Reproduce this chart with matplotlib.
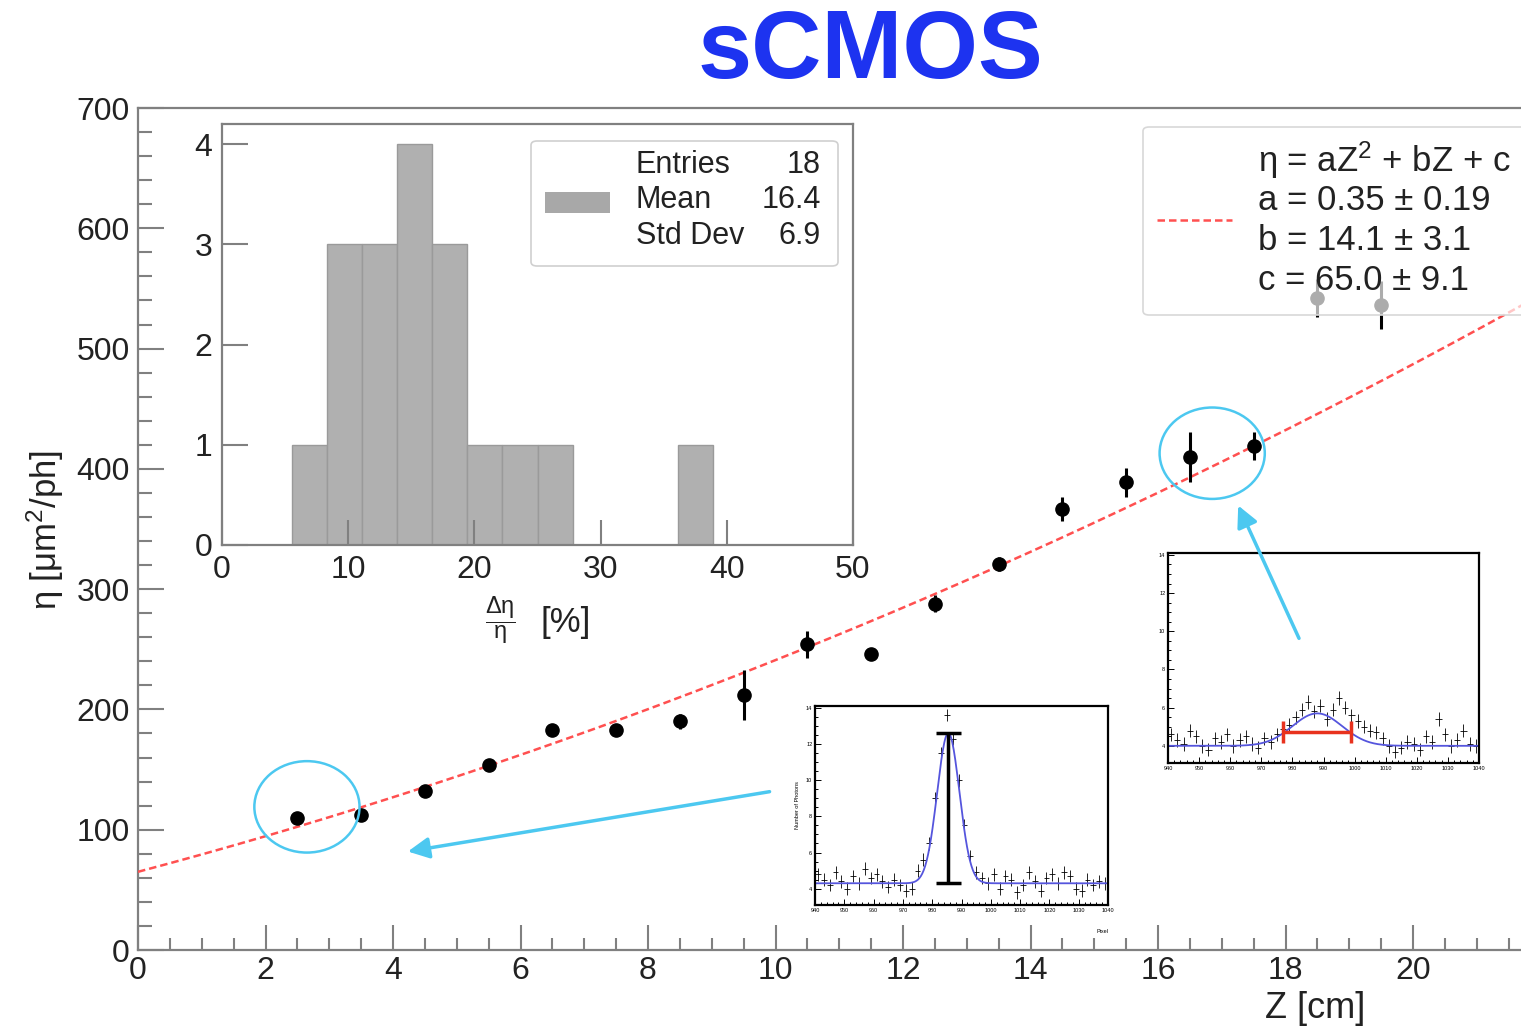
import numpy as np
import matplotlib
matplotlib.use('Agg')
from matplotlib import pyplot as plt
from matplotlib.patches import Ellipse, FancyBboxPatch, FancyArrowPatch, Rectangle
from matplotlib.lines import Line2D

plt.rcParams['font.family'] = ['Liberation Sans', 'DejaVu Sans']
plt.rcParams['mathtext.fontset'] = 'custom'
plt.rcParams['mathtext.rm'] = 'Liberation Sans'
plt.rcParams['mathtext.it'] = 'Liberation Sans'

# ---- main graph: eta vs drift distance Z ----
z_pos = [2.5, 3.5, 4.5, 5.5, 6.5, 7.5, 8.5, 9.5, 10.5, 11.5, 12.5, 13.5, 14.5, 15.5, 16.5, 17.5]
eta = [110, 112, 132, 154, 183, 183, 190, 212, 254, 246, 288, 321, 367, 389, 410, 419]
eta_err = [4, 4, 5, 5, 5, 5, 6, 21, 11, 4, 7, 6, 10, 12, 21, 12]
# last two points (hidden behind the fit box)
z_hidden = [18.5, 19.5]
eta_hidden = [542, 536]
eta_hidden_err = [16, 20]

# quadratic fit eta = a Z^2 + b Z + c
fit_a, fit_b, fit_c = 0.35, 14.1, 65.0
fit_lines = [r'η = aZ$^2$ + bZ + c', 'a = 0.35 ± 0.19', 'b = 14.1 ± 3.1', 'c = 65.0 ± 9.1']

# ---- histogram of d(eta)/eta [%] ----
hist_edges = np.linspace(0, 50, 19)
hist_counts = [0, 0, 1, 3, 3, 4, 3, 1, 1, 1, 0, 0, 0, 1, 0, 0, 0, 0]
stat_names = ['Entries', 'Mean', 'Std Dev']
stat_values = ['18', '16.4', '6.9']

# ---- example spectra (photons per pixel) ----
pix = np.arange(941, 1040, 2)
spec_near = [4.8, 4.5, 4.2, 4.9, 4.4, 4.0, 4.7, 4.3, 5.1, 4.6, 4.8, 4.4, 4.1, 4.5, 4.2, 3.9, 4.0,
             5.0, 5.6, 6.5, 9.0, 11.5, 13.6, 12.3, 10.0, 7.5, 5.8, 4.9, 4.6,
             4.3, 4.8, 4.0, 4.7, 4.5, 3.8, 4.2, 4.9, 4.4, 3.9, 4.6, 4.8, 4.3, 4.9, 4.7, 4.0,
             3.9, 4.5, 4.2, 4.4, 4.3]
spec_far = [4.6, 4.3, 4.1, 4.8, 4.5, 4.0, 3.8, 4.4, 4.2, 4.6, 4.0, 4.3, 4.5, 4.1, 3.9, 4.4,
            4.2, 4.6, 4.9, 5.1, 5.5, 5.9, 6.3, 5.8, 6.1, 5.4, 5.9, 6.5, 6.0, 5.6, 5.3, 5.0, 4.8,
            4.7, 4.4, 4.0, 3.7, 3.9, 4.2, 4.1, 3.8, 4.5, 4.2, 5.4, 4.6, 4.0, 4.3, 4.8, 4.1, 4.0]
# gaussian + constant fits (base, amplitude, mean, sigma)
gaus_near = (4.3, 8.3, 985.5, 3.8)
gaus_far = (4.0, 1.7, 988.0, 8.0)
width_near = (985.5, 4.3, 12.6)       # x, y low, y high
width_far = (977.0, 999.0, 4.7)       # x low, x high, y

W, H = 1521, 1032
cyan = '#4cc8f0'
grey = '#808080'


def fx(x):
    return x / W


def fy(y):
    return 1 - y / H


fig = plt.figure(figsize=(W / 100, H / 100), dpi=100)

# main axes (right edge runs off the picture)
ax = fig.add_axes([fx(138), fy(950), 1402.5 / W, 842 / H])
ax.errorbar(z_pos, eta, yerr=eta_err, fmt='o', color='black', ms=9.5, elinewidth=2.2, capsize=0, zorder=4)
ax.errorbar(z_hidden, eta_hidden, yerr=eta_hidden_err, fmt='o', color='black', ms=9.5, elinewidth=2.2,
            capsize=0, zorder=4)
zz = np.linspace(0, 22, 300)
ax.plot(zz, fit_a * zz**2 + fit_b * zz + fit_c, color='#ff5050', lw=1.8, dashes=(3, 1.6), zorder=3)
ax.add_patch(Ellipse((2.65, 119), 1.65, 76, fill=False, ec=cyan, lw=1.8, zorder=5))
ax.add_patch(Ellipse((16.85, 413), 1.65, 76, fill=False, ec=cyan, lw=1.8, zorder=5))

ax.set_xlim(0, 22)
ax.set_ylim(0, 700)
ax.set_xticks(np.arange(0, 21, 2))
ax.set_xticks(np.arange(0, 22.01, 0.5), minor=True)
ax.set_yticks(np.arange(0, 701, 100))
ax.set_yticks(np.arange(0, 701, 20), minor=True)
ax.tick_params(which='both', direction='in', color=grey, width=1.5, labelcolor='#222222', labelsize=23)
ax.tick_params(axis='y', which='major', length=19, pad=6)
ax.tick_params(axis='y', which='minor', length=10)
ax.tick_params(axis='x', which='major', length=18, pad=4)
ax.tick_params(axis='x', which='minor', length=9)
for s in ax.spines.values():
    s.set_color(grey)
    s.set_linewidth(1.6)
fig.text(fx(45), fy(530), 'η [μm$^2$/ph]', rotation=90, ha='center', va='center', fontsize=25, color='#222222')
fig.text(fx(1315), fy(1008), 'Z [cm]', ha='center', va='center', fontsize=26, color='#222222')

# histogram inset
axh = fig.add_axes([fx(222), fy(545), 631 / W, 421 / H])
axh.bar(hist_edges[:-1], hist_counts, width=np.diff(hist_edges), align='edge',
        color='#b0b0b0', edgecolor='#9a9a9a', lw=1)
axh.set_xlim(0, 50)
axh.set_ylim(0, 4.2)
axh.set_xticks(np.arange(0, 51, 10))
axh.set_yticks(np.arange(0, 5, 1))
axh.tick_params(which='both', direction='in', color=grey, width=1.5, labelcolor='#222222', labelsize=23)
axh.tick_params(axis='y', length=19, pad=7)
axh.tick_params(axis='x', length=18, pad=7)
for s in axh.spines.values():
    s.set_color(grey)
    s.set_linewidth(1.6)
axh.text(0.442, -0.178, r'$\dfrac{\Delta\eta}{\eta}$', transform=axh.transAxes, ha='center', va='center',
         fontsize=17, color='#222222')
axh.text(0.545, -0.183, '[%]', transform=axh.transAxes, ha='center', va='center',
         fontsize=25, color='#222222')

# stats box of the histogram
fig.add_artist(FancyBboxPatch((fx(531), fy(266)), 307 / W, 125 / H, boxstyle='round,pad=0,rounding_size=0.004',
                              transform=fig.transFigure, fc='white', ec='#d0d0d0', lw=1.2))
fig.add_artist(Rectangle((fx(545), fy(213)), 65 / W, 21 / H, transform=fig.transFigure,
                         fc='#a8a8a8', ec='none'))
for i, (name, val) in enumerate(zip(stat_names, stat_values)):
    yy = fy(165 + 35.5 * i)
    fig.text(fx(636), yy, name, ha='left', va='center', fontsize=22, color='#222222')
    fig.text(fx(821), yy, val, ha='right', va='center', fontsize=22, color='#222222')

# fit box
fig.add_artist(FancyBboxPatch((fx(1143), fy(315)), 400 / W, 188 / H, boxstyle='round,pad=0,rounding_size=0.004',
                              transform=fig.transFigure, fc=(1, 1, 1, 0.68), ec='#d8d8d8', lw=1.2))
fig.add_artist(Line2D([fx(1157), fx(1232)], [fy(220), fy(220)], transform=fig.transFigure,
                      color='#ff5050', lw=1.8, dashes=(3, 1.6)))
for i, line in enumerate(fit_lines):
    fig.text(fx(1258), fy(160 + 40 * i), line, ha='left', va='center', fontsize=25, color='#222222')


def spectrum(rect, counts, gaus):
    a = fig.add_axes(rect)
    a.errorbar(pix, counts, xerr=1, yerr=0.35, fmt='none', ecolor='black', elinewidth=0.6, capsize=0)
    xs = np.linspace(940, 1040, 400)
    base, amp, mu, sig = gaus
    a.plot(xs, base + amp * np.exp(-0.5 * ((xs - mu) / sig) ** 2), color='#5555dd', lw=1.3)
    a.set_xlim(940, 1040)
    a.set_ylim(3.1, 14.1)
    a.set_xticks(np.arange(940, 1041, 10))
    a.set_xticks(np.arange(940, 1041, 2), minor=True)
    a.set_yticks(np.arange(4, 15, 2))
    a.set_yticks(np.arange(4, 14.1, 0.5), minor=True)
    a.tick_params(which='both', direction='in', labelsize=4, width=0.7, pad=2)
    a.tick_params(which='major', length=4)
    a.tick_params(which='minor', length=2)
    for s in a.spines.values():
        s.set_linewidth(1.6)
    return a


axs1 = spectrum([fx(815), fy(905), 293 / W, 199 / H], spec_near, gaus_near)
axs1.errorbar([width_near[0]], [(width_near[1] + width_near[2]) / 2],
              yerr=[(width_near[2] - width_near[1]) / 2], fmt='none', ecolor='black',
              elinewidth=2.5, capsize=9, capthick=2.5)
axs1.set_ylabel('Number of Photons', fontsize=4, labelpad=4)
axs1.set_xlabel('Pixel', fontsize=4, labelpad=2)
axs1.xaxis.set_label_coords(0.98, -0.12)

axs2 = spectrum([fx(1168), fy(763), 311 / W, 210 / H], spec_far, gaus_far)
axs2.errorbar([(width_far[0] + width_far[1]) / 2], [width_far[2]],
              xerr=[(width_far[1] - width_far[0]) / 2], fmt='none', ecolor='#e8321e',
              elinewidth=2.5, capsize=8, capthick=2.5)

# arrows pointing from the spectra to the circled points
for start, end in [((9.95, 132), (4.19, 81.5)), ((18.23, 257), (17.24, 371.6))]:
    fig.add_artist(FancyArrowPatch(start, end, transform=ax.transData, arrowstyle='-|>',
                                   mutation_scale=32, lw=2.5, color=cyan))

fig.text(fx(870), fy(53), 'sCMOS', ha='center', va='center', fontsize=70, fontweight='bold', color='#1d33f0')

fig.savefig('out.png', dpi=100)
